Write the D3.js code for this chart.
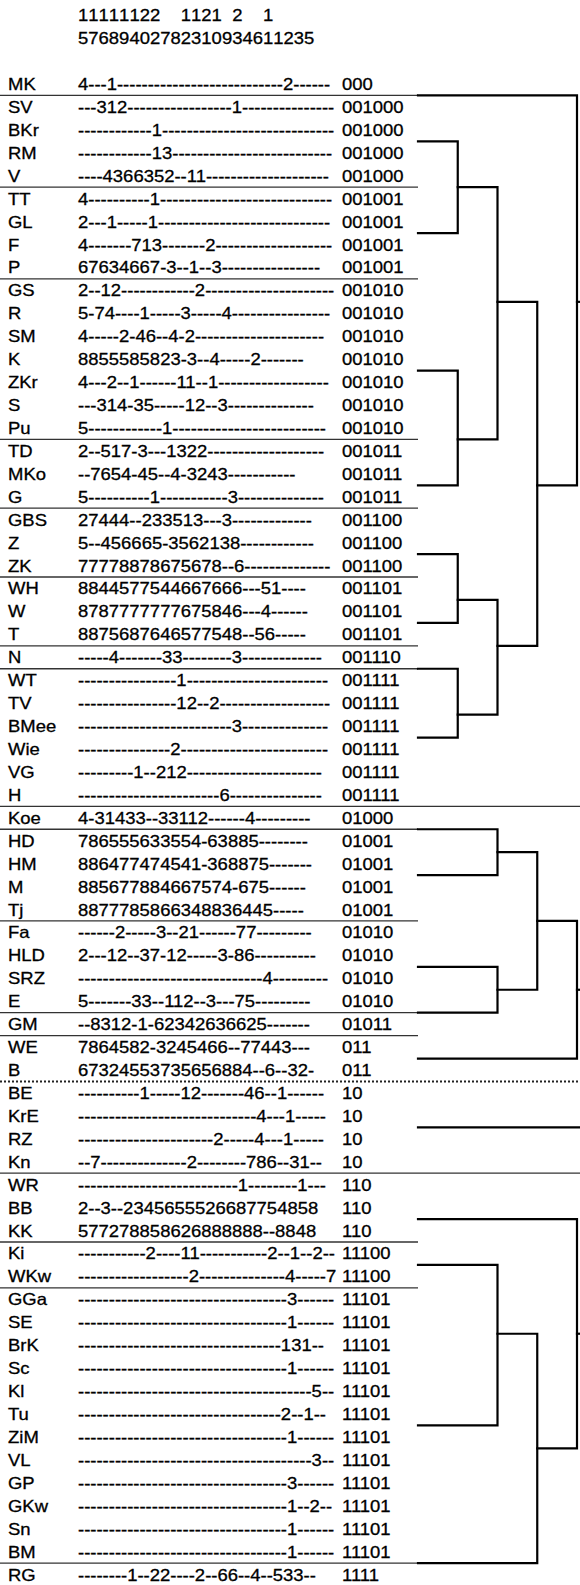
<!DOCTYPE html>
<html><head><meta charset="utf-8">
<script src="https://cdn.jsdelivr.net/npm/d3@7"></script>
<style>
html,body{margin:0;padding:0;background:#fff;}
svg{display:block;}
text{font-family:"Liberation Sans",Arial,Helvetica,sans-serif;font-size:16.5px;fill:#000;stroke:#000;stroke-width:0.3px;}
</style></head><body>
<svg id="chart" width="580" height="1585"></svg>
<script>
// column (site) numbers, in the order of the table
const columns = [15,17,16,18,19,14,20,22,7,8,12,13,21,10,9,23,4,6,11,1,2,3,5];

const labels = ["MK","SV","BKr","RM","V","TT","GL","F","P","GS","R","SM","K","ZKr","S","Pu",
 "TD","MKo","G","GBS","Z","ZK","WH","W","T","N","WT","TV","BMee","Wie","VG","H",
 "Koe","HD","HM","M","Tj","Fa","HLD","SRZ","E","GM","WE","B",
 "BE","KrE","RZ","Kn","WR","BB","KK","Ki","WKw","GGa","SE","BrK","Sc","Kl","Tu","ZiM","VL","GP","GKw","Sn","BM","RG"];

const patterns = [
 "4---1---------------------------2------",
 "---312-----------------1---------------",
 "------------1----------------------------",
 "------------13--------------------------",
 "----4366352--11--------------------",
 "4----------1----------------------------",
 "2---1-----1----------------------------",
 "4-------713-------2-------------------",
 "67634667-3--1--3----------------",
 "2--12------------2---------------------",
 "5-74----1-----3-----4----------------",
 "4-----2-46--4-2---------------------",
 "8855585823-3--4-----2-------",
 "4---2--1------11--1------------------",
 "---314-35-----12--3--------------",
 "5------------1-------------------------",
 "2--517-3---1322-------------------",
 "--7654-45--4-3243-----------",
 "5----------1-----------3--------------",
 "27444--233513---3-------------",
 "5--456665-3562138------------",
 "77778878675678--6--------------",
 "8844577544667666---51----",
 "8787777777675846---4------",
 "8875687646577548--56-----",
 "-----4-------33--------3-------------",
 "----------------1-----------------------",
 "----------------12--2------------------",
 "-------------------------3--------------",
 "---------------2------------------------",
 "---------1--212----------------------",
 "-----------------------6---------------",
 "4-31433--33112------4---------",
 "786555633554-63885--------",
 "886477474541-368875-------",
 "885677884667574-675------",
 "8877785866348836445-----",
 "------2-----3--21------77---------",
 "2---12--37-12-----3-86----------",
 "------------------------------4---------",
 "5-------33--112--3---75---------",
 "--8312-1-62342636625-------",
 "7864582-3245466--77443---",
 "67324553735656884--6--32-",
 "----------1-----12-------46--1------",
 "-----------------------------4---1-----",
 "----------------------2-----4---1-----",
 "--7--------------2--------786--31--",
 "--------------------------1--------1---",
 "2--3--2345655526687754858",
 "577278858626888888--8848",
 "-----------2----11-----------2--1--2--",
 "------------------2--------------4-----7",
 "----------------------------------3------",
 "----------------------------------1------",
 "---------------------------------131--",
 "----------------------------------1------",
 "--------------------------------------5--",
 "---------------------------------2--1--",
 "----------------------------------1------",
 "--------------------------------------3--",
 "----------------------------------3------",
 "----------------------------------1--2--",
 "----------------------------------1------",
 "----------------------------------1------",
 "--------1--22----2--66--4--533--"
];

const codes = ["000",
 "001000","001000","001000","001000",
 "001001","001001","001001","001001",
 "001010","001010","001010","001010","001010","001010","001010",
 "001011","001011","001011",
 "001100","001100","001100",
 "001101","001101","001101",
 "001110",
 "001111","001111","001111","001111","001111","001111",
 "01000",
 "01001","01001","01001","01001",
 "01010","01010","01010","01010",
 "01011",
 "011","011",
 "10","10","10","10",
 "110","110","110",
 "11100","11100",
 "11101","11101","11101","11101","11101","11101","11101","11101","11101","11101","11101","11101",
 "1111"];

// dendrogram: leaf = group code, position = row boundary where its line sits
const leafCodes = ["000","001000","001001","001010","001011","001100","001101","001110","001111",
 "01000","01001","01010","01011","011","10","110","11100","11101","1111"];
const leafAt = [1,3,7,13,18,21,24,26,29,33,35,39,41,43,46,50,52,59,65];
// joins: [id, childA, childB, level, boundary of the joining line]
const joins = [
 ["j1","001000","001001",1,5],
 ["j2","001010","001011",1,16],
 ["j3","j1","j2",2,10],
 ["j4","001100","001101",1,23],
 ["j5","001110","001111",1,28],
 ["j6","j4","j5",2,25],
 ["j7","j3","j6",3,18],
 ["j8","000","j7",4,10],
 ["j9","01000","01001",2,34],
 ["j10","01010","01011",2,40],
 ["j11","j9","j10",3,37],
 ["j12","j11","011",4,40],
 ["j13","11100","11101",2,55],
 ["j14","j13","1111",3,60],
 ["j15","110","j14",4,55]
];

const sx = 1.12; // horizontal stretch of the reference typeface
const svg = d3.select("#chart");
const nRows = labels.length;
const rowY = d3.scaleLinear().domain([0, nRows - 1]).range([84, 1574.5]);
const yB = b => rowY(b - 0.5);
const xD = d3.scaleLinear().domain([0, 4]).range([418, 577]);
const xLabel = 8, xPat = 78, xCode = 342;

function stretched(parent, x, y, txt) {
  return parent.append("text")
    .attr("transform", `translate(${x},${y}) scale(${sx},1)`)
    .text(txt);
}

// digit width
const probe = svg.append("text").text("0123456789");
const dw = probe.node().getComputedTextLength() / 10 * sx;
probe.remove();

// header
const colX = d3.scaleBand().domain(d3.range(columns.length))
  .range([xPat, xPat + dw * columns.length]).paddingInner(0).paddingOuter(0);
const head = svg.append("g");
columns.forEach((c, i) => {
  stretched(head, colX(i), 44, String(c % 10));
  if (c >= 10) stretched(head, colX(i), 20.5, String(Math.floor(c / 10)));
});

// separators from code changes
const sepG = svg.append("g");
for (let i = 1; i < nRows; i++) {
  const a = codes[i - 1], b = codes[i];
  if (a === b) continue;
  const yy = yB(i);
  if (a[0] !== b[0]) {
    sepG.append("line").attr("x1", 0).attr("x2", 580).attr("y1", yy).attr("y2", yy)
      .attr("stroke", "#222").attr("stroke-width", 2).attr("stroke-dasharray", "2,2");
  } else if (a.slice(0, 2) !== b.slice(0, 2)) {
    sepG.append("line").attr("x1", 0).attr("x2", 580).attr("y1", yy).attr("y2", yy)
      .attr("stroke", "#333").attr("stroke-width", 1.3);
  } else {
    sepG.append("line").attr("x1", 0).attr("x2", xD(0)).attr("y1", yy).attr("y2", yy)
      .attr("stroke", "#333").attr("stroke-width", 1.3);
  }
}

// rows
const rowsG = svg.append("g");
labels.forEach((lab, i) => {
  const yy = rowY(i) + 6;
  stretched(rowsG, xLabel, yy, lab);
  const t = stretched(rowsG, xPat, yy, patterns[i]);
  const w = t.node().getComputedTextLength() * sx;
  stretched(rowsG, Math.max(xCode, xPat + w + 5), yy, codes[i]);
});

// dendrogram
const nodes = new Map();
leafCodes.forEach((c, k) => nodes.set(c, { level: 0, at: leafAt[k] }));
joins.forEach(j => nodes.set(j[0], { level: j[3], at: j[4] }));
const used = new Set();
const dG = svg.append("g").attr("fill", "none").attr("stroke", "#000")
  .attr("stroke-width", 2.2).attr("stroke-linecap", "square");
joins.forEach(([id, a, b, level, at]) => {
  used.add(a); used.add(b);
  const na = nodes.get(a), nb = nodes.get(b);
  const x = xD(level);
  dG.append("path").attr("d",
    `M${xD(na.level)},${yB(na.at)}H${x}V${yB(nb.at)}H${xD(nb.level)}`);
});
// roots run off the right edge
[...nodes.keys()].filter(k => !used.has(k)).forEach(k => {
  const n = nodes.get(k);
  dG.append("path").attr("d", `M${xD(n.level)},${yB(n.at)}H${xD(4.15)}`);
});
</script>
</body></html>
